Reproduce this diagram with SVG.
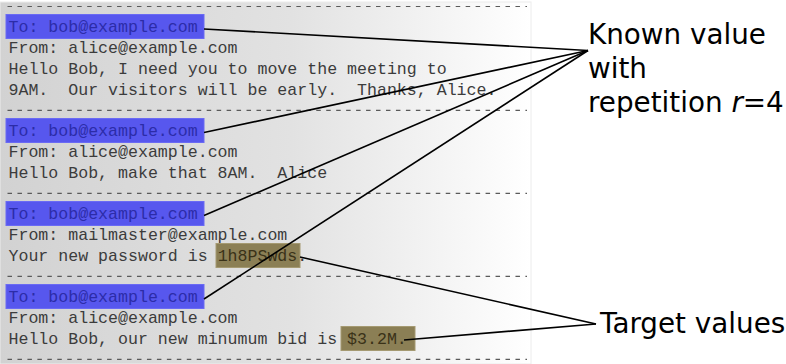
<svg xmlns="http://www.w3.org/2000/svg" width="786" height="364" viewBox="0 0 786 364">
  <defs>
    <linearGradient id="panelFade" x1="0" y1="0" x2="1" y2="0">
      <stop offset="0" stop-color="#d2d2d2"/>
      <stop offset="0.55" stop-color="#e2e2e2"/>
      <stop offset="1" stop-color="#ffffff"/>
    </linearGradient>
  </defs>
  <style>
    .mono { font-family: "Liberation Mono", "Courier New", monospace; font-size: 16.6px; fill: #3c3c3c; white-space: pre; }
    .hdr { fill: #2c2ca8; }
    .tgt { fill: #3a3218; }
    .sep { stroke: #5a5a5a; stroke-width: 1.2; stroke-dasharray: 4.5 5.46; fill: none; }
    .known { fill: #5757ee; stroke: #6a6af4; stroke-width: 1; }
    .secret { fill: #8b7f55; stroke: #a59a72; stroke-width: 1; }
    .label { font-family: "DejaVu Sans", Verdana, sans-serif; font-size: 27.8px; fill: #000; }
    .link { stroke: #000; stroke-width: 1.6; fill: none; }
  </style>

  <!-- mailbox panel -->
  <rect x="0" y="2" width="531" height="362" fill="url(#panelFade)" stroke="#ececec" stroke-width="1"/>

  <!-- separators between messages -->
  <g id="separators">
    <line class="sep" x1="7.5" y1="6.5" x2="527" y2="6.5"/>
    <line class="sep" x1="7.5" y1="110.3" x2="527" y2="110.3"/>
    <line class="sep" x1="7.5" y1="193.3" x2="527" y2="193.3"/>
    <line class="sep" x1="7.5" y1="276.4" x2="527" y2="276.4"/>
    <line class="sep" x1="7.5" y1="359.4" x2="527" y2="359.4"/>
  </g>

  <!-- message 1 -->
  <g id="msg1">
    <rect class="known" x="6" y="14.5" width="198" height="24"/>
    <text class="mono hdr" x="8.5" y="32.3">To: bob@example.com</text>
    <text class="mono" x="8.5" y="53">From: alice@example.com</text>
    <text class="mono" x="8.5" y="73.8">Hello Bob, I need you to move the meeting to</text>
    <text class="mono" x="8.5" y="94.5">9AM.  Our visitors will be early.  Thanks, Alice.</text>
  </g>

  <!-- message 2 -->
  <g id="msg2">
    <rect class="known" x="6" y="118.5" width="198" height="24"/>
    <text class="mono hdr" x="8.5" y="136.1">To: bob@example.com</text>
    <text class="mono" x="8.5" y="156.8">From: alice@example.com</text>
    <text class="mono" x="8.5" y="177.6">Hello Bob, make that 8AM.  Alice</text>
  </g>

  <!-- message 3 -->
  <g id="msg3">
    <rect class="known" x="6" y="201.5" width="198" height="24"/>
    <text class="mono hdr" x="8.5" y="219.1">To: bob@example.com</text>
    <text class="mono" x="8.5" y="239.9">From: mailmaster@example.com</text>
    <rect class="secret" x="216" y="243.5" width="84" height="24"/>
    <text class="mono" x="8.5" y="260.6">Your new password is <tspan class="tgt">1h8PSwds</tspan>.</text>
  </g>

  <!-- message 4 -->
  <g id="msg4">
    <rect class="known" x="6" y="284.5" width="198" height="24"/>
    <text class="mono hdr" x="8.5" y="302.1">To: bob@example.com</text>
    <text class="mono" x="8.5" y="322.9">From: alice@example.com</text>
    <rect class="secret" x="341" y="326.5" width="74" height="24"/>
    <text class="mono" x="8.5" y="343.7">Hello Bob, our new minumum bid is <tspan class="tgt">$3.2M.</tspan></text>
  </g>

  <!-- callout labels -->
  <g id="known-label">
    <text class="label" x="588" y="44">Known value</text>
    <text class="label" x="588" y="78">with</text>
    <text class="label" x="588" y="112">repetition <tspan font-style="italic">r</tspan>=4</text>
  </g>
  <g id="target-label">
    <text class="label" x="600" y="333">Target values</text>
  </g>

  <!-- connectors -->
  <g id="connectors">
    <line class="link" x1="204" y1="29" x2="588" y2="50.5"/>
    <line class="link" x1="204" y1="132.5" x2="588" y2="50.5"/>
    <line class="link" x1="204" y1="215.5" x2="588" y2="50.5"/>
    <line class="link" x1="204" y1="299" x2="588" y2="50.5"/>
    <line class="link" x1="300" y1="257" x2="596" y2="324"/>
    <line class="link" x1="404" y1="340" x2="596" y2="324"/>
  </g>
</svg>
